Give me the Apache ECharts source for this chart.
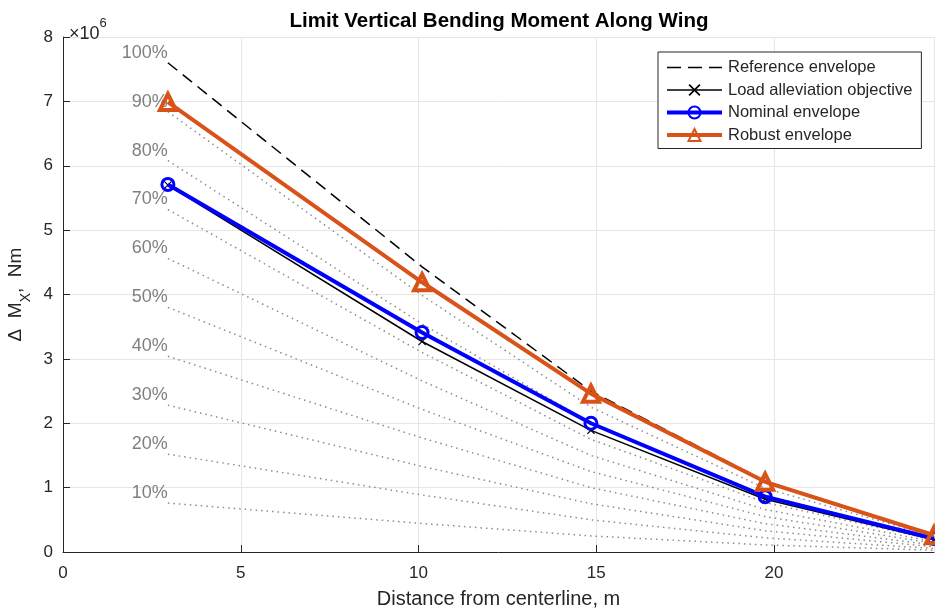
<!DOCTYPE html>
<html><head><meta charset="utf-8">
<script src="https://cdn.jsdelivr.net/npm/echarts@6/dist/echarts.min.js"></script>
<style>html,body{margin:0;padding:0;background:#fff}#c{width:935px;height:610px}</style>
</head><body><div id="c"></div>
<script>
// Spanwise stations (m) and bending moments (x10^6 Nm)
const spanStations = [2.95, 10.1, 14.85, 19.75, 24.5];
const referenceEnvelope = [7.60, 4.43, 2.50, 1.10, 0.27];
const loadAlleviationObjective = [5.70, 3.27, 1.89, 0.82, 0.19];
const nominalEnvelope = [5.71, 3.41, 2.00, 0.86, 0.21];
const robustEnvelope = [6.99, 4.19, 2.46, 1.09, 0.26];
const percentLevels = [10, 20, 30, 40, 50, 60, 70, 80, 90, 100];
const xTicks = [0, 5, 10, 15, 20];
const yTicks = [0, 1, 2, 3, 4, 5, 6, 7, 8];
const legendNames = ['Reference envelope', 'Load alleviation objective', 'Nominal envelope', 'Robust envelope'];

const FONT = '"Liberation Sans", Arial, Helvetica, sans-serif';
const TXT = '#262626';
const pairs = ys => spanStations.map((x, i) => [x, ys[i]]);

const dottedSeries = percentLevels.map(p => ({
  type: 'line',
  name: p + '%',
  silent: true,
  z: 1,
  symbol: 'circle',
  symbolSize: 0,
  itemStyle: { color: 'rgba(0,0,0,0)' },
  // the 100% line coincides with the dashed reference envelope, which hides it
  lineStyle: { color: '#8c8c8c', width: 1.5, type: [1.5, 4], opacity: p === 100 ? 0 : 1 },
  data: spanStations.map((x, i) => {
    const v = [x, referenceEnvelope[i] * p / 100];
    if (i === 0) {
      return { value: v, label: { show: true, position: 'top', align: 'right', distance: 1,
        formatter: p + '%', color: '#808080', fontSize: 18, fontFamily: FONT } };
    }
    return v;
  })
}));

const xSymbol = 'path://M0,1L1,0L5,4L9,0L10,1L6,5L10,9L9,10L5,6L1,10L0,9L4,5Z';

const option = {
  backgroundColor: '#fff',
  animation: false,
  title: [
    { text: 'Limit Vertical Bending Moment Along Wing', left: 494, top: 6, textAlign: 'center',
      textStyle: { fontFamily: FONT, fontSize: 20.5, fontWeight: 'bold', color: '#000' } },
    { text: '{a|×10}{s|6}', left: 64, top: 12,
      textStyle: { fontWeight: 'normal', rich: {
        a: { fontFamily: FONT, fontSize: 18, fontWeight: 'normal', color: TXT, lineHeight: 26, verticalAlign: 'bottom' },
        s: { fontFamily: FONT, fontSize: 13, fontWeight: 'normal', color: TXT, lineHeight: 13, verticalAlign: 'top' } } } }
  ],
  grid: { left: 63, right: 1, top: 37, bottom: 58, containLabel: false, outerBoundsMode: 'none' },
  legend: {
    data: [
      { name: legendNames[0], lineStyle: { color: '#000', width: 1.5, type: [14, 7] } },
      { name: legendNames[1], lineStyle: { color: '#000', width: 1.5 } },
      { name: legendNames[2], lineStyle: { color: '#0000ff', width: 4 } },
      { name: legendNames[3], lineStyle: { color: '#d95319', width: 4 } }
    ],
    orient: 'vertical',
    left: 658, top: 52,
    backgroundColor: '#fff',
    borderColor: TXT, borderWidth: 1, borderRadius: 0,
    padding: [7, 9, 5, 7],
    itemWidth: 55, itemHeight: 15, itemGap: 5.5,
    textStyle: { fontFamily: FONT, fontSize: 16.5, color: TXT, padding: [0, 0, 0, 1] }
  },
  xAxis: {
    type: 'value', min: 0, max: 24.5, interval: 5,
    name: 'Distance from centerline, m', nameLocation: 'middle', nameGap: 37,
    nameTextStyle: { fontFamily: FONT, fontSize: 20, color: TXT },
    axisLine: { show: true, lineStyle: { color: TXT, width: 1 } },
    axisTick: { show: true, inside: true, length: 7, lineStyle: { color: TXT } },
    axisLabel: { fontFamily: FONT, fontSize: 17, color: TXT, margin: 13, showMaxLabel: false,
      formatter: v => xTicks.indexOf(v) >= 0 ? String(v) : '' },
    splitLine: { show: true, lineStyle: { color: '#e6e6e6', width: 1 } }
  },
  yAxis: {
    type: 'value', min: 0, max: 8, interval: 1,
    name: '{a|Δ  M}{b|X}{a|,  Nm}', nameLocation: 'middle', nameGap: 26, nameRotate: 90,
    nameTextStyle: { rich: {
      a: { fontFamily: FONT, fontSize: 19, color: TXT, lineHeight: 26, verticalAlign: 'top' },
      b: { fontFamily: FONT, fontSize: 14, color: TXT, lineHeight: 14, verticalAlign: 'bottom' } } },
    axisLine: { show: true, lineStyle: { color: TXT, width: 1 } },
    axisTick: { show: true, inside: true, length: 7, lineStyle: { color: TXT } },
    axisLabel: { fontFamily: FONT, fontSize: 17, color: TXT, margin: 10,
      formatter: v => yTicks.indexOf(v) >= 0 ? String(v) : '' },
    splitLine: { show: true, lineStyle: { color: '#e6e6e6', width: 1 } }
  },
  series: dottedSeries.concat([
    { type: 'line', name: legendNames[0], data: pairs(referenceEnvelope), z: 3,
      symbol: 'none', lineStyle: { color: '#000', width: 1.5, type: [12, 7] },
      itemStyle: { color: 'rgba(0,0,0,0)', borderColor: 'rgba(0,0,0,0)' } },
    { type: 'line', name: legendNames[1], data: pairs(loadAlleviationObjective), z: 4,
      symbol: xSymbol, symbolSize: 8, lineStyle: { color: '#000', width: 1.5 }, itemStyle: { color: '#000' } },
    { type: 'line', name: legendNames[2], data: pairs(nominalEnvelope), z: 5,
      symbol: 'circle', symbolSize: 12,
      lineStyle: { color: '#0000ff', width: 4 },
      itemStyle: { color: 'rgba(0,0,0,0)', borderColor: '#0000ff', borderWidth: 3 } },
    { type: 'line', name: legendNames[3], data: pairs(robustEnvelope), z: 6,
      symbol: 'triangle', symbolSize: 16,
      lineStyle: { color: '#d95319', width: 4 },
      itemStyle: { color: 'rgba(0,0,0,0)', borderColor: '#d95319', borderWidth: 4 } }
  ])
};
const chart = echarts.init(document.getElementById('c'), null, { renderer: 'canvas' });
chart.setOption(option);
</script></body></html>
